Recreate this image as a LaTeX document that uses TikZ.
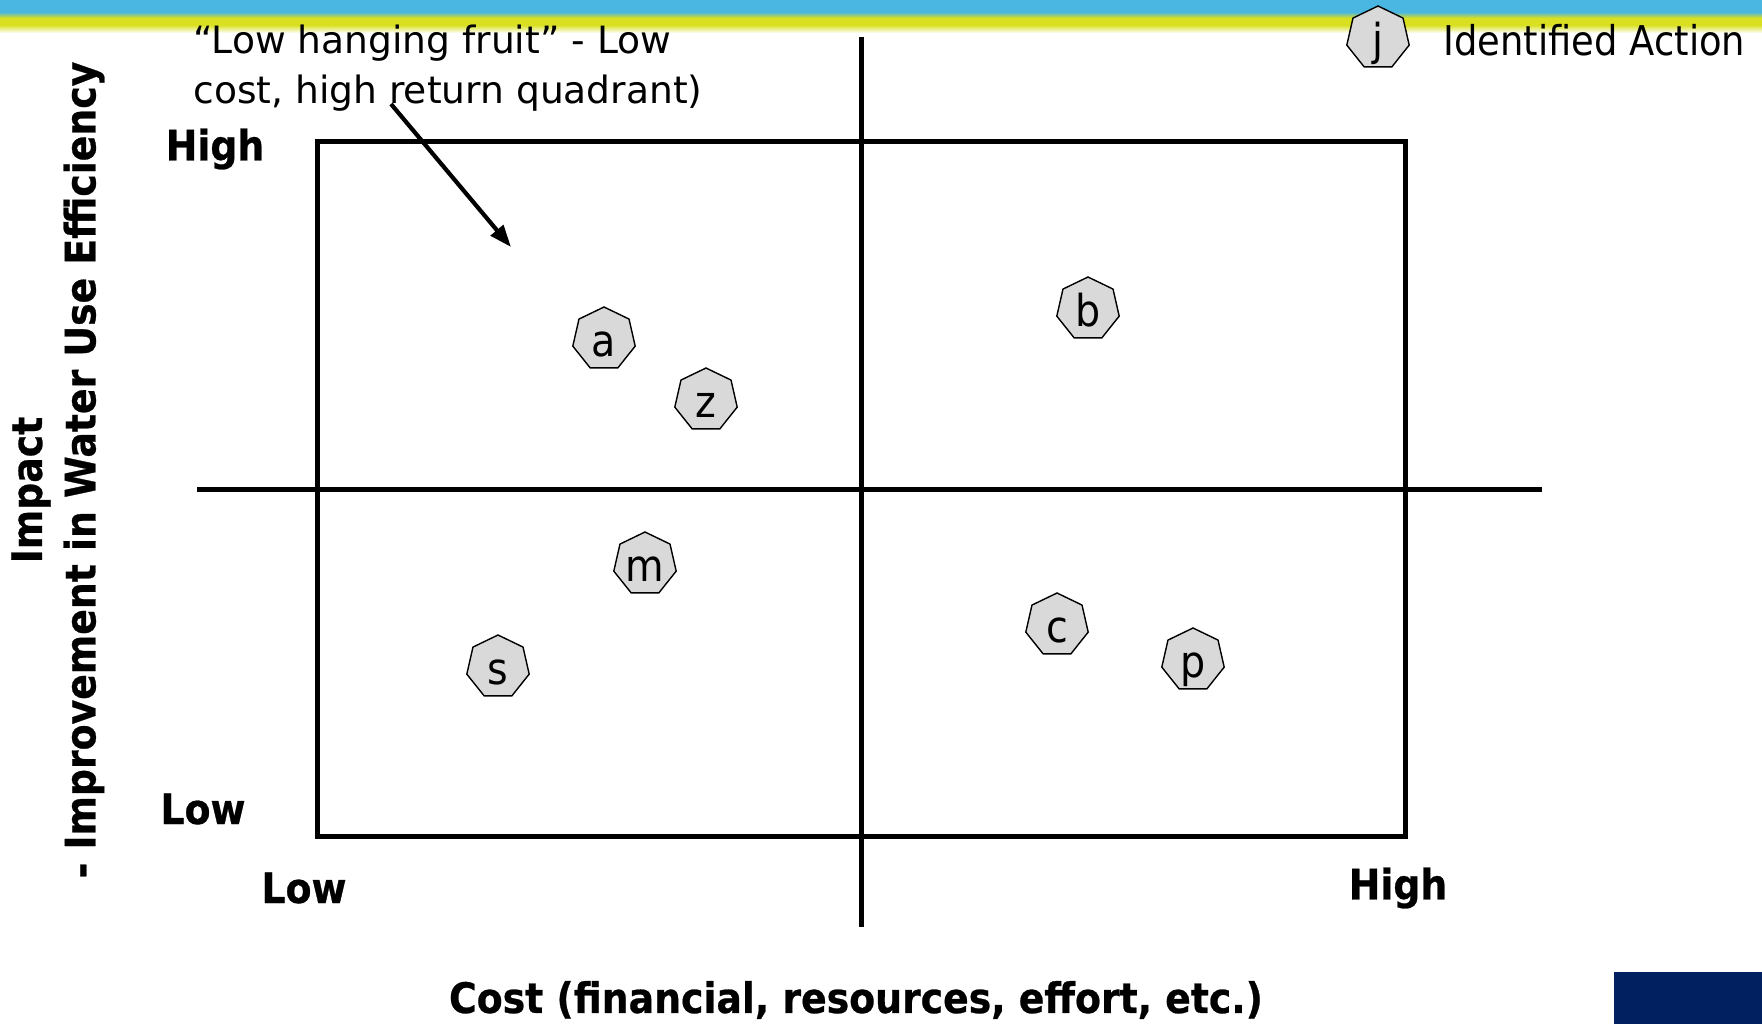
\documentclass[tikz,border=0pt]{standalone}
\usepackage{fontspec}
\setmainfont{DejaVu Sans}
\newfontfamily\tightsans{DejaVu Sans}[FakeStretch=0.9, BoldFeatures={FakeBold=0.6}]
\usetikzlibrary{shapes.geometric,arrows.meta}

\definecolor{barblue}{HTML}{4AB6E2}
\definecolor{baryellow}{HTML}{D9E021}
\definecolor{navy}{HTML}{002060}
\definecolor{action}{HTML}{D9D9D9}

\begin{document}
\begin{tikzpicture}[
  x=0.5pt, y=-0.5pt,
  every node/.style={inner sep=0pt},
  frame/.style={line width=2.5pt},
  pointer/.style={line width=2.1pt, -{Triangle[length=11pt, width=8pt]}},
  axislabel/.style={font=\tightsans\bfseries\fontsize{21}{24}\selectfont},
  note/.style={font=\fontsize{18.8}{25}\selectfont, align=left},
  legend/.style={font=\tightsans\fontsize{20.5}{24}\selectfont},
  action/.style={regular polygon, regular polygon sides=7, draw, line width=0.7pt,
    fill=action, minimum size=32pt, inner sep=0pt, text height=17.5pt, text depth=0pt,
    font=\tightsans\fontsize{22}{24}\selectfont},
]
\useasboundingbox (0,0) rectangle (1762,1024);
\fill[barblue] (0,0) rectangle (1762,12);
\shade[top color=barblue, bottom color=baryellow] (0,12) rectangle (1762,18);
\fill[baryellow] (0,18) rectangle (1762,25);
\shade[top color=baryellow, bottom color=white] (0,25) rectangle (1762,33);
\fill[navy] (1614,972) rectangle (1762,1024);

\draw[frame] (317,141) rectangle (1405,836);
\draw[frame] (861,37) -- (861,927);
\draw[frame] (197,489) -- (1542,489);

\node[note, anchor=west] (fruit) at (193,68) {“Low hanging fruit” - Low\\cost, high return quadrant)};
\coordinate (fruittail) at (391,104);
\coordinate (fruittip) at (511,247);
\draw[pointer] (fruittail) -- (fruittip);

\node[axislabel] (yhigh) at (215,149) {High};
\node[axislabel] (ylow) at (203,809) {Low};
\node[axislabel] (xlow) at (304,888) {Low};
\node[axislabel] (xhigh) at (1398,888) {High};
\node[axislabel] (cost) at (856,1000) {Cost (financial, resources, effort, etc.)};
\node[axislabel, rotate=90] (impact) at (31,490) {Impact};
\node[axislabel, rotate=90] (impactsub) at (84,470) {- Improvement in Water Use Efficiency};

\node[action] (a) at (604,339) {a};
\node[action] (z) at (706,400) {z};
\node[action] (b) at (1088,309) {b};
\node[action] (m) at (645,564) {m};
\node[action] (s) at (498,667) {s};
\node[action] (c) at (1057,625) {c};
\node[action] (p) at (1193,660) {p};

\node[action] (j) at (1378,38) {j};
\node[legend, anchor=base west] (legendtext) at (1443,55) {Identified Action};
\end{tikzpicture}
\end{document}
